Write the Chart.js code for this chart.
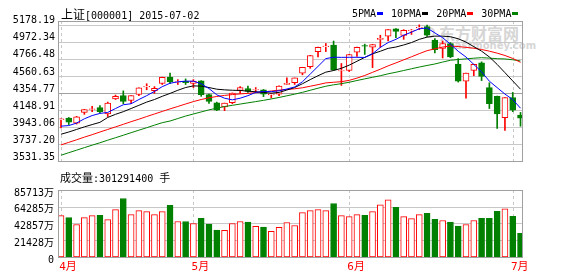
<!DOCTYPE html>
<html>
<head>
<meta charset="utf-8">
<title>上证指数 日K</title>
<script src="https://cdn.jsdelivr.net/npm/chart.js@4.4.1/dist/chart.umd.min.js"></script>
<style>
  body { margin: 0; background: #fff; }
  #wrap { position: relative; width: 578px; height: 276px; overflow: hidden; background: #fff;
          font-family: "DejaVu Sans Mono", "Noto Sans CJK SC", monospace; font-size: 10px; color: #000; }
  #wrap canvas { position: absolute; left: 0; }
  #priceChart { top: 0; }
  #volChart { top: 180px; }
  .guide { position: absolute; box-sizing: border-box; }
  .txt { position: absolute; white-space: nowrap; line-height: 12px; }
  .zh { font-family: "Noto Sans CJK SC", sans-serif; }
  #title { left: 61px; top: 8px; }
  #title .zh { font-size: 12px; }
  #legend { left: 352px; top: 8px; }
  #legend i { display: inline-block; width: 6px; height: 3px; margin: 0 8px 1px 1px; vertical-align: middle; }
  #volTitle { left: 60px; top: 171px; }
  #volTitle .zh { font-size: 11px; }
  #logo { position: absolute; left: 424px; top: 27px; width: 11px; height: 11px; border-radius: 50%;
          border: 2px solid #d6d6d6; box-sizing: border-box; }
  #mark1 { left: 439px; top: 25px; font: bold 16px "Noto Sans CJK SC", sans-serif; color: #d6d6d6; line-height: 16px; }
  #mark2 { left: 448px; top: 41px; font: bold 10px "DejaVu Sans", sans-serif; color: #d6d6d6; line-height: 10px; }
</style>
</head>
<body>
<div id="wrap">
  <div id="logo"></div>
  <div id="mark1" class="txt">东方财富网</div>
  <div id="mark2" class="txt">eastmoney.com</div>
  <canvas id="priceChart" width="578" height="170"></canvas>
  <canvas id="volChart" width="578" height="96"></canvas>
  <div id="title" class="txt"><span class="zh">上证</span>[000001] 2015-07-02</div>
  <div id="legend" class="txt">5PMA<i style="background:#0000ff"></i>10PMA<i style="background:#000000"></i>20PMA<i style="background:#ff0000"></i>30PMA<i style="background:#008000"></i></div>
  <div id="volTitle" class="txt"><span class="zh">成交量</span>:301291400 <span class="zh">手</span></div>
</div>
<script>
// 거래일 (2015-04-08 ~ 2015-07-02)
var days = ['04-08','04-09','04-10','04-13','04-14','04-15','04-16','04-17','04-20','04-21',
            '04-22','04-23','04-24','04-27','04-28','04-29','04-30','05-04','05-05','05-06',
            '05-07','05-08','05-11','05-12','05-13','05-14','05-15','05-18','05-19','05-20',
            '05-21','05-22','05-25','05-26','05-27','05-28','05-29','06-01','06-02','06-03',
            '06-04','06-05','06-08','06-09','06-10','06-11','06-12','06-15','06-16','06-17',
            '06-18','06-19','06-23','06-24','06-25','06-26','06-29','06-30','07-01','07-02'];

// 시가 / 고가 / 저가 / 종가
var opens  = [4030,4052,3990,4119,4155,4177,4101,4283,4322,4264,4338,4428,4381,4469,4548,4486,4497,4469,4501,4334,
              4236,4186,4236,4384,4408,4390,4392,4332,4341,4459,4478,4595,4672,4855,4915,4933,4620,4626,4848,4928,
              4909,5003,5042,5131,5050,5108,5140,5158,4995,4894,4953,4703,4497,4626,4719,4419,4314,4057,4299,4088];
var highs  = [4043,4058,4072,4156,4194,4201,4244,4329,4380,4322,4416,4466,4431,4546,4595,4516,4524,4516,4503,4341,
              4244,4232,4355,4431,4439,4420,4396,4350,4441,4536,4536,4665,4810,4908,4953,4983,4711,4822,4908,4945,
              4942,5053,5122,5133,5120,5122,5178.19,5176,5011,4983,4964,4770,4596,4702,4731,4478,4316,4300,4361,4119];
var lows   = [3932,3972,3978,4095,4128,4116,4069,4275,4224,4224,4322,4393,4349,4457,4466,4457,4457,4420,4314,4229,
              4140,4140,4224,4349,4361,4361,4310,4294,4322,4457,4457,4574,4653,4789,4855,4626,4446,4614,4796,4820,
              4661,4906,4983,5023,5003,5062,5120,5038,4840,4778,4781,4486,4291,4563,4504,4166,3925,3902,4128,3952];
var closes = [4040,4002,4065,4154,4162,4128,4232,4314,4252,4322,4416,4434,4411,4544,4489,4492,4478,4497,4334,4252,
              4147,4232,4353,4420,4373,4396,4341,4337,4439,4470,4536,4664,4808,4906,4921,4633,4626,4820,4906,4922,
              4940,5015,5120,5100,5111,5116,5149,5053,4878,4953,4789,4497,4594,4700,4556,4224,4100,4299,4147,4049];

// 이동평균선
var ma5  = [3953,3960,3990,4042,4081,4107,4119,4166,4212,4224,4275,4322,4373,4431,4472,4489,4497,4497,4466,4408,
            4332,4291,4271,4291,4322,4361,4373,4370,4381,4402,4427,4490,4583,4676,4770,4787,4785,4786,4786,4784,
            4828,4906,4964,5003,5053,5090,5131,5140,5081,5023,4945,4859,4789,4700,4610,4497,4419,4341,4275,4170];
var ma10 = [3855,3882,3913,3944,3972,3999,4058,4096,4128,4166,4205,4244,4275,4314,4349,4387,4420,4440,4437,4420,
            4400,4392,4387,4385,4376,4369,4361,4352,4361,4390,4420,4466,4516,4563,4606,4626,4653,4691,4738,4785,
            4828,4859,4894,4910,4935,4964,5003,5030,5042,5042,5035,5010,4970,4915,4860,4790,4700,4600,4500,4400];
var ma20 = [3726,3757,3788,3820,3850,3882,3913,3944,3975,4007,4037,4069,4100,4131,4162,4191,4221,4250,4275,4296,
            4312,4325,4335,4343,4350,4358,4367,4378,4388,4397,4405,4417,4436,4455,4476,4484,4491,4507,4534,4566,
            4604,4642,4682,4718,4755,4792,4830,4866,4888,4910,4922,4916,4906,4896,4880,4860,4836,4808,4772,4725];
var ma30 = [3601,3632,3662,3693,3723,3752,3783,3813,3843,3874,3904,3934,3965,3995,4015,4045,4075,4100,4125,4150,
            4170,4190,4205,4220,4235,4250,4265,4282,4300,4320,4340,4362,4387,4412,4436,4453,4467,4484,4505,4525,
            4544,4563,4586,4605,4626,4647,4668,4687,4705,4728,4750,4759,4767,4775,4781,4776,4769,4766,4756,4742];

// 거래량 (만 手)
var volumes = [52945,50420,41600,50420,52945,53365,47900,60510,74800,54200,59250,57990,54200,57990,65970,45380,45380,42860,49580,42020,
               34460,34040,42860,45380,44540,39080,38240,32780,37820,44120,40340,56730,59250,60510,59250,68490,52945,51690,54200,53365,
               57990,66810,73110,63450,51690,49160,54200,55890,48320,46640,44540,39500,41600,46640,49580,49580,58410,61770,52100,30129];

// 축 눈금
var priceTicks = [3531.35, 3737.20, 3943.06, 4148.91, 4354.77, 4560.63, 4766.48, 4972.34, 5178.19];
var priceTickLabels = ['3531.35','3737.20','3943.06','4148.91','4354.77','4560.63','4766.48','4972.34','5178.19'];
var volTicks = [0, 21428, 42857, 64285, 85713];
var volTickLabels = ['0','21428万','42857万','64285万','85713万'];
var monthTicks = [0, 17, 37, 58];
var monthLabels = ['4月','5月','6月','7月'];

var RED = '#ff0000', GREEN = '#008000';
var GRID = '#c8c8c8', MID = '#a0a0a0', FRAME = '#a0a0a0';
var tickFont = { family: '"DejaVu Sans Mono", "Noto Sans CJK SC", monospace', size: 10 };

function isUp(i) { return closes[i] >= opens[i]; }

// 격자선 / 월 점선 / 테두리 : 차트 축 좌표로 위치 계산해서 div 로 깔기
function addGuides(chart, canvasTop, midValue) {
  var wrap = document.getElementById('wrap');
  var a = chart.chartArea, xs = chart.scales.x, ys = chart.scales.y;
  var L = Math.round(a.left), R = Math.round(a.right), T = Math.round(a.top), B = Math.round(a.bottom);

  function box(x, y, w, h, css, onTop) {
    var d = document.createElement('div');
    d.className = 'guide';
    d.style.cssText = 'left:' + x + 'px;top:' + (y + canvasTop) + 'px;width:' + w + 'px;height:' + h + 'px;' + css;
    if (onTop) wrap.appendChild(d); else wrap.insertBefore(d, wrap.firstChild);
  }

  ys.ticks.forEach(function(t) {
    var py = Math.round(ys.getPixelForValue(t.value));
    box(L, py, R - L, 1, 'background:' + (t.value === midValue ? MID : GRID), false);
  });
  monthTicks.forEach(function(v) {
    var px = Math.round(xs.getPixelForValue(v));
    box(px, T, 1, B - T, 'background:repeating-linear-gradient(to bottom,' + GRID + ' 0 3px, transparent 3px 6px)', false);
  });
  box(L, T, R - L + 1, B - T + 1, 'border:1px solid ' + FRAME, true);
}

function xScale(showLabels) {
  return {
    type: 'linear', min: -0.385, max: 59.19, offset: false,
    afterBuildTicks: function(s) { s.ticks = monthTicks.map(function(v) { return { value: v }; }); },
    afterFit: function(s) { s.height = showLabels ? 19 : 0; },
    grid: { display: false, drawTicks: false, offset: false },
    border: { display: false },
    ticks: {
      display: showLabels, color: RED, padding: 4, labelOffset: 7, maxRotation: 0, autoSkip: false,
      font: { family: tickFont.family, size: 11 },
      callback: function(v) { return monthLabels[monthTicks.indexOf(v)]; }
    }
  };
}

function yScale(min, max, ticks, labels, offset, pad) {
  return {
    min: min, max: max,
    afterBuildTicks: function(s) { s.ticks = ticks.map(function(v) { return { value: v }; }); },
    afterFit: function(s) { s.width = 58; },
    grid: { display: false, drawTicks: false },
    border: { display: false },
    ticks: {
      color: '#000', padding: pad, labelOffset: offset, font: tickFont, autoSkip: false,
      callback: function(v, idx) { return labels[idx]; }
    }
  };
}

function lineSet(values, color) {
  return {
    type: 'line',
    data: values.map(function(v, i) { return { x: i, y: v }; }),
    borderColor: color, borderWidth: 1, pointRadius: 0, tension: 0, fill: false
  };
}

//*************
// K선 차트
//*************
function createPriceChart() {
  var ctx = document.getElementById('priceChart').getContext('2d');
  return new Chart(ctx, {
    type: 'bar',
    data: {
      datasets: [
        lineSet(ma5, '#0000ff'),
        lineSet(ma10, '#000000'),
        lineSet(ma20, RED),
        lineSet(ma30, GREEN),
        {
          // 몸통
          data: days.map(function(d, i) { return { x: i, y: [opens[i], closes[i]] }; }),
          backgroundColor: days.map(function(d, i) { return isUp(i) ? '#ffffff' : GREEN; }),
          borderColor: days.map(function(d, i) { return isUp(i) ? RED : GREEN; }),
          borderWidth: 1, borderSkipped: false, barThickness: 6, grouped: false
        },
        {
          // 꼬리
          data: days.map(function(d, i) { return { x: i, y: [lows[i], highs[i]] }; }),
          backgroundColor: days.map(function(d, i) { return isUp(i) ? RED : GREEN; }),
          barThickness: 1, grouped: false
        }
      ]
    },
    options: {
      responsive: false,
      animation: false,
      layout: { padding: { top: 21, right: 56, bottom: 4, left: 0 } },
      plugins: { legend: { display: false }, tooltip: { enabled: false } },
      scales: {
        x: xScale(false),
        y: yScale(3531.35, 5225, priceTicks, priceTickLabels, -4, 3)
      }
    }
  });
}

//*************
// 거래량 차트
//*************
function createVolumeChart() {
  var ctx = document.getElementById('volChart').getContext('2d');
  return new Chart(ctx, {
    type: 'bar',
    data: {
      datasets: [{
        data: days.map(function(d, i) { return { x: i, y: volumes[i] }; }),
        backgroundColor: days.map(function(d, i) { return isUp(i) ? '#ffffff' : GREEN; }),
        borderColor: days.map(function(d, i) { return isUp(i) ? RED : GREEN; }),
        borderWidth: 1, borderSkipped: false, barThickness: 6, grouped: false
      }]
    },
    options: {
      responsive: false,
      animation: false,
      layout: { padding: { top: 9, right: 56, bottom: 0, left: 0 } },
      plugins: { legend: { display: false }, tooltip: { enabled: false } },
      scales: {
        x: xScale(true),
        y: yScale(0, 85713, volTicks, volTickLabels, 3, 4)
      }
    }
  });
}

var priceChart = createPriceChart();
var volChart = createVolumeChart();
addGuides(priceChart, 0, priceTicks[4]);
addGuides(volChart, 180, null);
</script>
</body>
</html>
